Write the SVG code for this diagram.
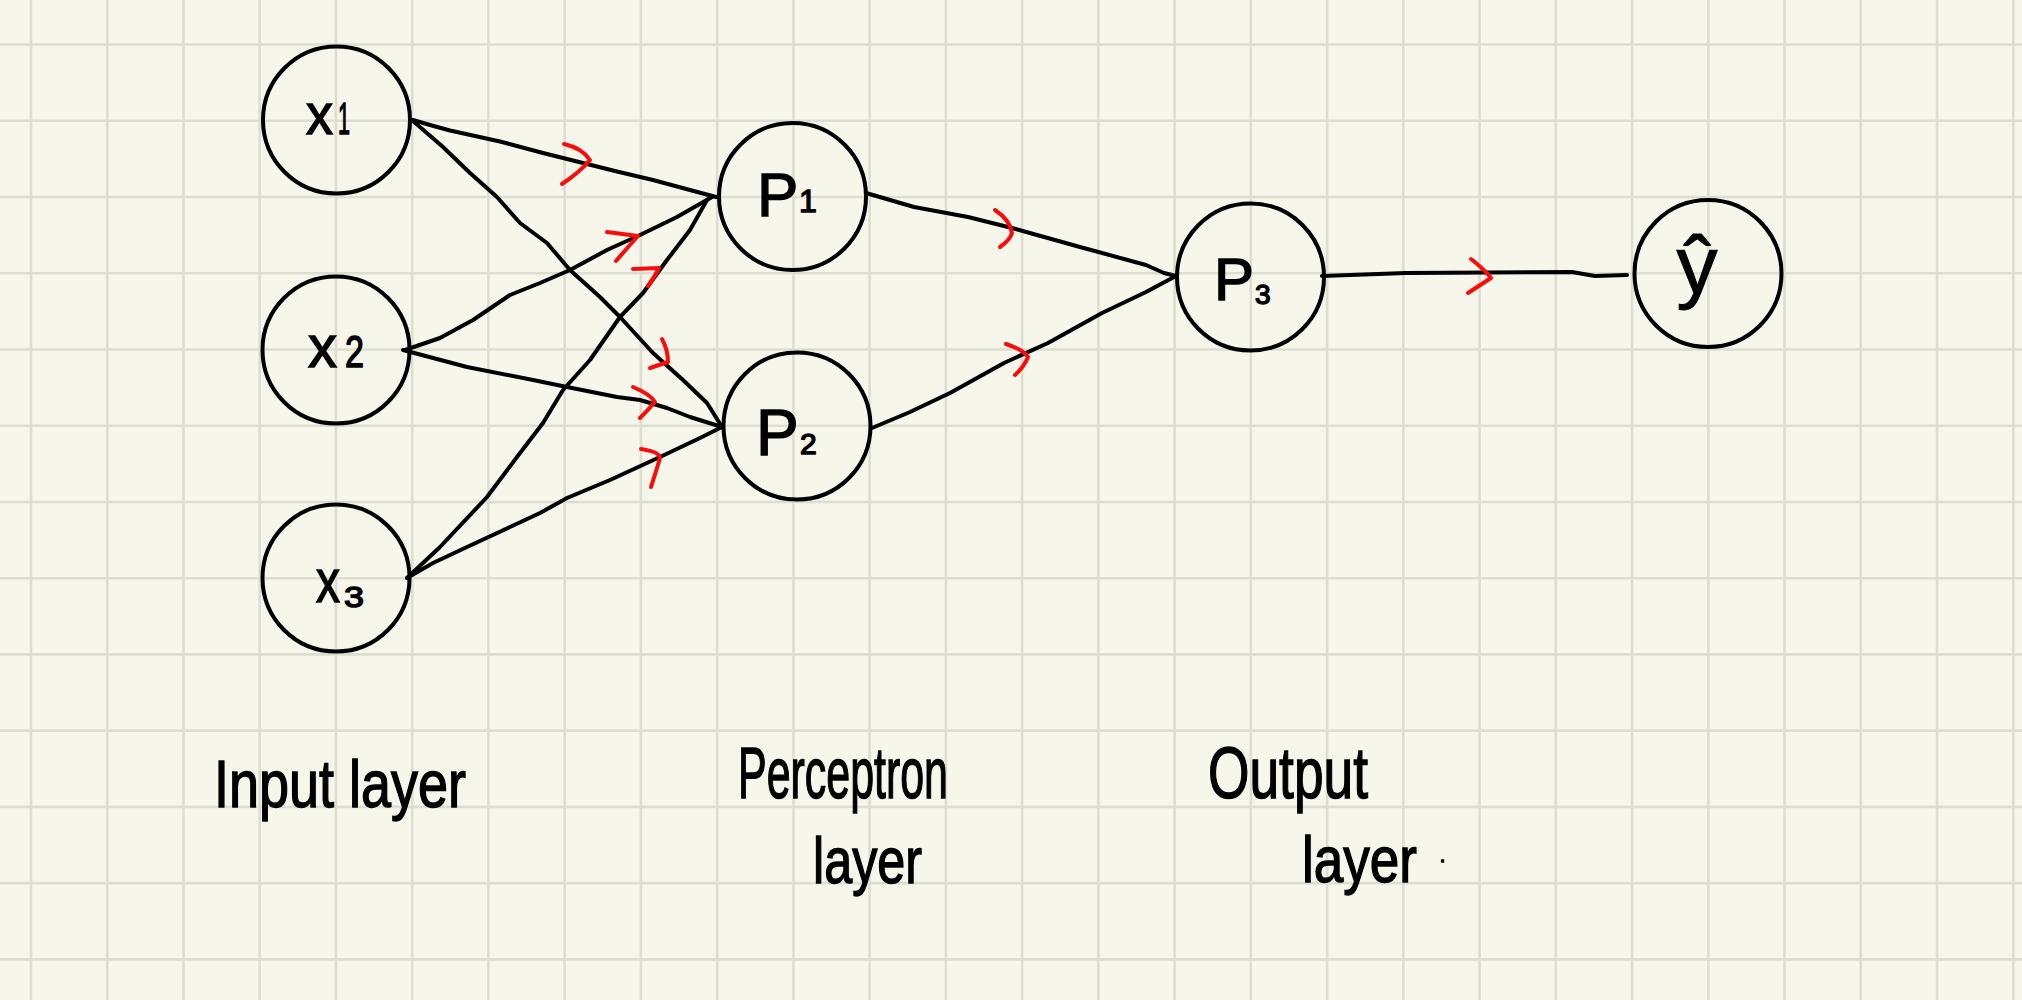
<svg xmlns="http://www.w3.org/2000/svg" width="2022" height="1000" viewBox="0 0 2022 1000">
<style>
.grid{stroke:#deddd1;stroke-width:2.6;fill:none}
.node{fill:none;stroke:#000;stroke-width:4}
.edge{fill:none;stroke:#000;stroke-width:4;stroke-linecap:round;stroke-linejoin:round}
.chev{fill:none;stroke:#ff0a0a;stroke-width:4;stroke-linecap:round;stroke-linejoin:round}
.lbl{font-family:"Liberation Sans",Arial,sans-serif;fill:#000;stroke:#000;stroke-width:1.4}
</style>
<rect x="0" y="0" width="2022" height="1000" fill="#f7f6eb"/>
<g id="grid">
<path class="grid" d="M31,0V1000M107.24,0V1000M183.48,0V1000M259.72,0V1000M335.96,0V1000M412.2,0V1000M488.44,0V1000M564.68,0V1000M640.92,0V1000M717.16,0V1000M793.4,0V1000M869.64,0V1000M945.88,0V1000M1022.12,0V1000M1098.36,0V1000M1174.6,0V1000M1250.84,0V1000M1327.08,0V1000M1403.32,0V1000M1479.56,0V1000M1555.8,0V1000M1632.04,0V1000M1708.28,0V1000M1784.52,0V1000M1860.76,0V1000M1937,0V1000M2013.24,0V1000"/>
<path class="grid" d="M0,44.5H2022M0,120.74H2022M0,196.98H2022M0,273.22H2022M0,349.46H2022M0,425.7H2022M0,501.94H2022M0,578.18H2022M0,654.42H2022M0,730.66H2022M0,806.9H2022M0,883.14H2022M0,959.38H2022"/>
</g>
<g id="connectors">
<path class="edge" d="M413,120 L430,125 L450,130.5 L500,141.5 L543,153 L583,163 L617,171.5 L653,180 L690,190 L716,197"/>
<path class="edge" d="M413,121 L443,147 L470,173 L497,197 L520,223 L547,243 L570,270 L600,297 L620,317 L653,353 L683,380 L707,403 L722,427"/>
<path class="edge" d="M405,350 L440,338 L473,320 L510,295 L540,283 L570,270 L607,250 L640,235 L677,217 L712,197"/>
<path class="edge" d="M403,350 L467,367 L533,380 L567,387 L617,397 L640,400 L667,408 L690,417 L722,427"/>
<path class="edge" d="M407,578 L440,547 L487,497 L517,457 L543,423 L563,390 L590,360 L620,317 L643,293 L667,260 L690,230 L707,200 L712,196"/>
<path class="edge" d="M407,578 L433,563 L467,547 L510,527 L540,513 L567,498 L610,480 L660,457 L700,438 L722,427"/>
<path class="edge" d="M866,193 L914,207 L968,217 L1012,228 L1080,247 L1146,265 L1164,273 L1176,276"/>
<path class="edge" d="M872,428 L910,412 L950,393 L1004,363 L1048,343 L1102,313 L1146,292 L1176,276"/>
<path class="edge" d="M1322,276 L1406,273 L1572,272 L1595,276 L1627,275"/>
<g id="arrowheads">
<path class="chev" d="M564,144 Q582,148 590,160 Q580,172 562,184"/>
<path class="chev" d="M607,232 L638,236 Q628,247 616,261"/>
<path class="chev" d="M633,269 L659,268 Q654,278 648,286"/>
<path class="chev" d="M662,339 Q668,350 668,362 L650,368"/>
<path class="chev" d="M633,387 Q650,394 655,402 Q648,410 640,418"/>
<path class="chev" d="M641,449 Q660,452 660,458 Q655,475 651,487"/>
<path class="chev" d="M995,210 Q1010,220 1012,233 Q1010,240 1000,247"/>
<path class="chev" d="M1006,344 Q1024,350 1028,357 Q1024,367 1015,375"/>
<path class="chev" d="M1471,259 Q1485,270 1491,278 L1468,293"/>
</g>
</g>
<g id="node-x1">
<circle class="node" cx="336.5" cy="120" r="73.5"/>
<text class="lbl" x="306" y="134" font-size="58" textLength="27" lengthAdjust="spacingAndGlyphs">x</text>
<text class="lbl" x="338" y="134" font-size="44" textLength="12" lengthAdjust="spacingAndGlyphs">1</text>
</g>
<g id="node-x2">
<circle class="node" cx="336" cy="350" r="73.5"/>
<text class="lbl" x="308" y="367" font-size="60" textLength="29" lengthAdjust="spacingAndGlyphs">x</text>
<text class="lbl" x="345" y="367" font-size="44" textLength="19" lengthAdjust="spacingAndGlyphs">2</text>
</g>
<g id="node-x3">
<circle class="node" cx="336" cy="578" r="73.5"/>
<text class="lbl" x="316" y="602" font-size="62" textLength="24" lengthAdjust="spacingAndGlyphs">x</text>
<text class="lbl" x="344" y="607" font-size="30" textLength="20" lengthAdjust="spacingAndGlyphs">3</text>
</g>
<g id="node-p1">
<circle class="node" cx="792.5" cy="196.5" r="73.5"/>
<text class="lbl" x="757" y="216" font-size="62">P</text>
<text class="lbl" x="799" y="212" font-size="32">1</text>
</g>
<g id="node-p2">
<circle class="node" cx="797" cy="426" r="73.5"/>
<text class="lbl" x="756" y="455" font-size="64">P</text>
<text class="lbl" x="800" y="454" font-size="30">2</text>
</g>
<g id="node-p3">
<circle class="node" cx="1250.5" cy="277" r="73.5"/>
<text class="lbl" x="1214" y="300" font-size="60">P</text>
<text class="lbl" x="1255" y="304" font-size="28">3</text>
</g>
<g id="node-yhat">
<circle class="node" cx="1708" cy="273.5" r="73.5"/>
<text class="lbl" x="1697" y="293" font-size="82" text-anchor="middle" style="stroke-width:1">ŷ</text>
</g>
<g id="labels">
<text class="lbl" x="214" y="807" font-size="66" textLength="252" lengthAdjust="spacingAndGlyphs">Input layer</text>
<text class="lbl" x="738" y="798" font-size="72" textLength="210" lengthAdjust="spacingAndGlyphs">Perceptron</text>
<text class="lbl" x="813" y="883" font-size="64" textLength="109" lengthAdjust="spacingAndGlyphs">layer</text>
<text class="lbl" x="1208" y="798" font-size="72" textLength="160" lengthAdjust="spacingAndGlyphs">Output</text>
<text class="lbl" x="1302" y="882" font-size="64" textLength="115" lengthAdjust="spacingAndGlyphs">layer</text>
<text class="lbl" x="1440" y="862" font-size="18">.</text>
</g>
</svg>
